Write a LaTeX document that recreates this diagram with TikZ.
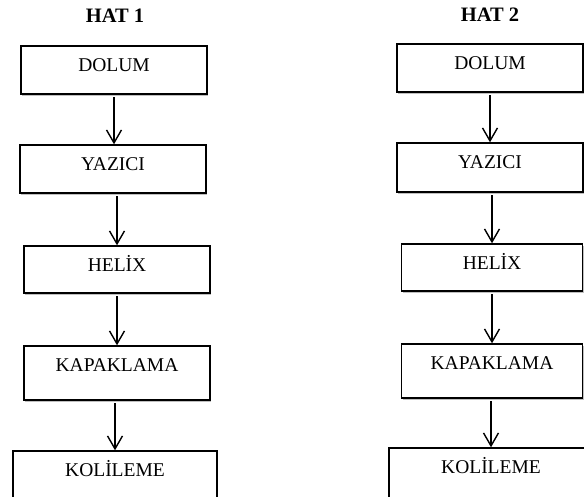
\documentclass[tikz,border=0pt]{standalone}
\usepackage{fontspec}
\setmainfont{Liberation Serif}
\usetikzlibrary{arrows.meta,shadows}
\begin{document}
\begin{tikzpicture}[x=1pt,y=-1pt,
  box/.style={draw=black, line width=1.4pt, fill=white, rectangle, inner sep=0pt,
    drop shadow={shadow xshift=1.2pt, shadow yshift=-1.8pt, opacity=0.25, fill=black}},
  lbl/.style={font=\fontsize{19.5}{22}\selectfont, anchor=base, inner sep=0pt},
  ttl/.style={font=\fontsize{20.5}{24}\selectfont\bfseries, anchor=base, inner sep=0pt},
  arr/.style={line width=1.4pt, -{Straight Barb[length=13pt,width=15pt,line width=1.4pt]}}
]
\useasboundingbox (0,0) rectangle (584,497);
\clip (0,0) rectangle (584,497);

% titles
\node[ttl] (t1) at (115,22.5) {HAT 1};
\node[ttl] (t2) at (490,21.5) {HAT 2};

% left column boxes
\node[box, minimum width=186pt, minimum height=48pt] (d1) at (114,70) {};
\node[box, minimum width=186pt, minimum height=48pt] (y1) at (113,169) {};
\node[box, minimum width=186pt, minimum height=47pt] (h1) at (117,269.5) {};
\node[box, minimum width=186pt, minimum height=54pt] (k1) at (117,373) {};
\node[box, minimum width=204pt, minimum height=70pt] (l1) at (115,486) {};

% right column boxes
\node[box, minimum width=186pt, minimum height=48pt] (d2) at (490,68) {};
\node[box, minimum width=186pt, minimum height=49pt] (y2) at (490,167.5) {};
\node[box, minimum width=181pt, minimum height=47pt] (h2) at (492,267.5) {};
\node[box, minimum width=181pt, minimum height=54pt] (k2) at (492,371) {};
\node[box, minimum width=204pt, minimum height=70pt] (l2) at (491,483) {};

% labels
\foreach \b/\t in {d1/DOLUM, y1/YAZICI, h1/HELİX, k1/KAPAKLAMA, l1/KOLİLEME,
                   d2/DOLUM, y2/YAZICI, h2/HELİX, k2/KAPAKLAMA, l2/KOLİLEME}
  \node[lbl] (\b t) at ([yshift=-26pt]\b.north) {\t};

% arrows
\draw[arr] ([yshift=-2.5pt]d1.south) -- (d1.south |- y1.north);
\draw[arr] ([yshift=-2.5pt]y1.south -| h1.south) -- (h1.north);
\draw[arr] ([yshift=-2.5pt]h1.south) -- (h1.south |- k1.north);
\draw[arr] ([yshift=-2.5pt]k1.south -| l1.north) -- (l1.north);

\draw[arr] ([yshift=-2.5pt]d2.south) -- (d2.south |- y2.north);
\draw[arr] ([yshift=-2.5pt]y2.south -| h2.south) -- (h2.north);
\draw[arr] ([yshift=-2.5pt]h2.south) -- (h2.south |- k2.north);
\draw[arr] ([yshift=-2.5pt]k2.south -| l2.north) -- (l2.north);
\end{tikzpicture}
\end{document}
